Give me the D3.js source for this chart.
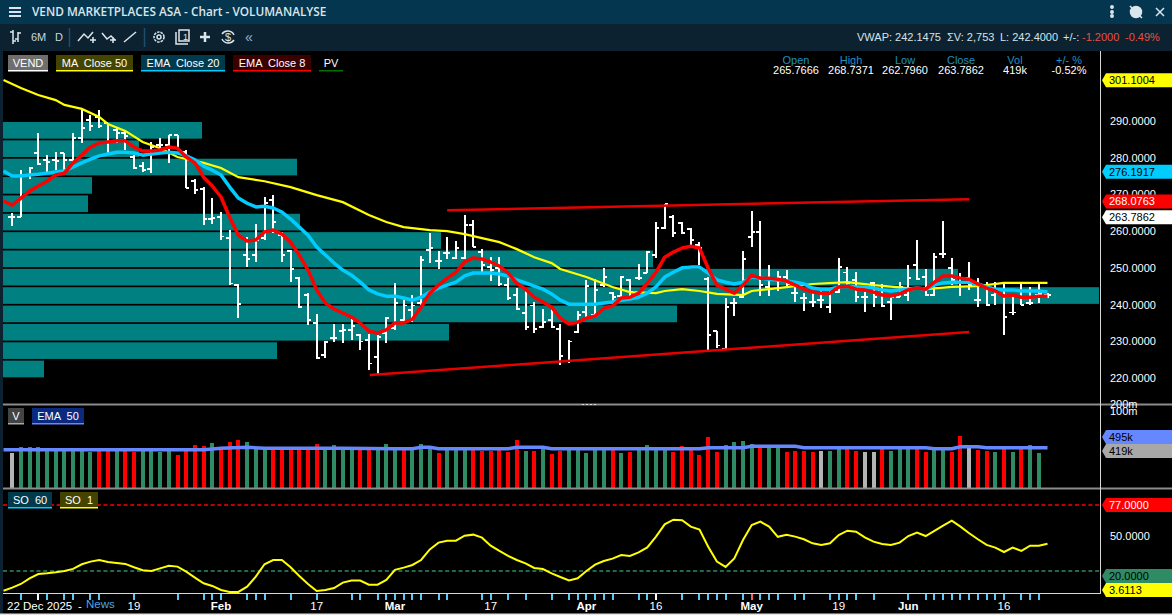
<!DOCTYPE html>
<html>
<head>
<meta charset="utf-8">
<title>VEND MARKETPLACES ASA - Chart</title>
<script src="https://cdn.jsdelivr.net/npm/d3@7"></script>
<style>
html, body { margin: 0; padding: 0; background: #000; overflow: hidden; }
svg { display: block; }
text { font-family: "Liberation Sans", Arial, sans-serif; font-size: 11px; fill: #fff; }
.axis path, .axis line { display: none; }
.axis text { font-size: 11px; fill: #fff; }
</style>
</head>
<body>
<div id="chart"></div>
<script>
// Price bars, one per trading day
const highs = [264.9,276.6,277.5,286.7,280.7,281.6,281.3,286.7,293.0,291.6,
    293.0,289.5,288.1,287.3,280.7,278.8,284.3,285.4,286.2,286.2,
    282.1,274.2,272.0,269.0,265.2,260.3,245.6,258.4,261.9,269.3,
    269.8,259.8,254.9,247.5,243.1,237.4,230.0,234.7,234.7,236.0,
    232.0,232.0,231.7,236.6,245.8,241.2,242.6,253.2,259.5,254.6,
    258.4,257.3,264.4,263.0,255.1,252.9,252.9,247.2,244.5,244.2,
    240.7,238.8,238.8,234.7,230.3,238.2,246.7,247.0,250.0,243.4,
    247.8,247.0,251.0,254.6,262.5,267.4,264.4,262.5,260.8,257.0,
    247.5,232.8,241.8,241.8,254.6,265.5,262.7,250.8,249.1,249.4,
    246.4,243.1,243.4,244.0,244.0,252.7,250.2,248.8,243.4,246.1,
    245.6,242.0,246.1,250.8,257.6,249.7,254.0,262.7,252.7,248.6,
    251.6,247.2,246.1,246.1,245.6,242.0,245.6,244.8,245.9,243.1];
const lows = [261.4,263.8,274.2,278.0,276.1,276.6,276.4,278.8,284.0,287.3,
    288.1,281.3,284.0,282.1,276.9,276.1,275.8,281.3,278.6,282.1,
    271.7,270.1,261.7,262.0,257.6,245.3,236.3,250.2,251.6,257.6,
    259.5,251.6,246.1,239.0,234.4,225.1,225.4,229.8,229.5,230.3,
    227.6,222.1,221.0,229.5,233.1,235.2,235.2,239.8,251.3,249.7,
    252.4,252.4,252.4,255.7,248.8,246.4,245.0,241.2,238.5,233.1,
    232.2,233.6,233.6,223.5,224.0,232.2,236.6,236.6,244.8,239.3,
    242.0,242.0,246.7,248.6,252.7,260.6,258.4,259.2,256.2,250.8,
    227.0,228.1,227.9,236.9,241.8,255.7,242.3,242.3,243.7,244.8,
    240.7,238.2,239.3,239.0,237.7,243.1,245.3,240.7,238.0,239.3,
    239.3,235.8,242.0,240.9,246.7,242.3,242.3,252.7,245.3,242.3,
    244.0,239.3,239.6,239.9,231.7,237.1,239.9,239.9,240.4,241.8];
const opens = [263.8,263.8,275.3,281.3,279.4,279.4,281.3,279.4,285.4,290.3,
    291.1,289.5,287.5,286.7,280.2,277.7,276.9,283.5,283.5,286.2,
    281.6,273.6,271.5,263.3,263.8,258.1,245.3,253.5,253.5,258.1,
    268.5,259.0,254.6,247.2,242.6,235.0,226.2,230.9,232.8,233.1,
    231.7,230.3,225.7,232.2,233.6,235.8,238.5,240.4,254.8,251.8,
    254.0,252.7,252.7,261.7,254.3,250.2,249.9,245.3,242.6,237.7,
    239.8,233.9,235.8,233.3,224.6,232.5,238.0,237.1,245.3,243.1,
    242.3,246.7,247.2,248.6,253.5,260.8,263.8,262.2,260.6,256.2,
    247.0,232.8,227.9,240.4,242.0,258.4,259.8,244.8,246.7,247.5,
    243.1,241.8,240.7,241.2,239.3,243.4,248.8,246.7,242.0,245.9,
    244.0,240.7,242.0,242.6,250.8,247.5,242.6,253.8,249.9,247.2,
    247.2,241.2,245.3,242.6,242.6,237.9,244.0,240.4,242.6,242.6];
const closes = [263.8,275.0,277.2,278.3,278.8,279.1,279.4,285.4,288.1,288.6,
    288.6,284.6,286.7,285.9,277.2,276.6,282.9,283.5,286.2,282.1,
    271.7,271.2,263.3,263.6,258.6,245.8,240.1,252.4,257.6,267.6,
    262.5,253.5,249.7,239.3,235.8,225.4,229.8,230.9,233.1,234.1,
    230.0,224.0,231.1,236.3,240.4,239.8,239.8,252.1,255.4,251.8,
    254.0,255.4,261.7,255.7,250.8,249.4,245.6,241.8,238.8,233.9,
    233.3,235.2,233.9,226.0,230.0,237.1,245.0,244.0,247.5,242.0,
    247.5,243.4,247.2,254.3,260.8,267.4,259.5,259.5,257.6,255.4,
    231.7,228.9,239.3,240.4,252.4,259.8,245.3,246.7,247.5,245.6,
    243.1,241.8,240.7,241.2,243.4,250.2,245.9,242.0,242.0,242.0,
    239.6,242.0,244.8,247.2,246.9,242.6,252.9,253.8,246.7,245.9,
    245.3,241.2,239.9,243.1,236.6,237.9,239.9,240.4,242.9,242.6];

// Moving averages: these start one day before the first bar
const ema8 = [268.2,267.1,269.0,270.9,272.3,273.6,275.3,275.8,278.6,280.7,282.9,
    284.0,284.3,284.6,284.6,282.9,281.8,281.8,282.1,282.9,282.6,
    280.2,278.6,274.7,272.3,269.3,263.8,258.9,257.3,257.6,259.8,
    260.3,259.2,257.0,253.5,249.4,244.0,240.4,238.8,237.7,236.6,
    235.0,232.8,232.2,233.1,235.0,235.0,236.0,239.3,243.1,245.3,
    247.2,248.8,251.6,252.7,252.4,251.6,250.5,248.6,245.8,244.2,
    242.0,240.7,239.3,236.3,234.7,235.2,236.3,236.9,239.0,239.6,
    241.8,242.0,243.1,245.8,248.8,252.9,254.3,255.4,255.9,255.4,
    249.9,245.3,244.2,243.1,245.3,248.0,247.2,247.2,246.9,246.4,
    245.3,244.2,243.4,243.1,243.1,244.8,245.0,244.2,244.0,243.4,
    242.6,242.3,242.9,244.0,244.5,244.2,246.1,247.8,247.8,247.2,
    246.9,245.6,244.5,243.7,242.3,242.6,242.0,242.0,242.3,242.3];
const ema20 = [276.4,275.0,275.0,275.3,275.5,275.8,276.1,276.4,277.5,278.6,279.6,
    280.5,281.0,281.5,281.5,281.3,280.7,281.0,281.3,281.5,281.3,
    280.5,279.4,277.7,276.6,275.3,272.0,269.0,267.6,266.6,266.8,
    266.3,265.2,263.3,261.1,258.9,255.7,253.5,251.3,249.4,248.0,
    246.1,244.0,242.9,242.3,242.3,241.8,241.2,242.0,243.4,244.5,
    245.3,246.1,247.8,248.6,248.6,248.6,248.3,247.8,246.7,245.9,
    245.0,244.2,242.9,241.2,240.1,240.1,240.1,240.1,240.4,240.7,
    241.2,241.5,242.0,243.1,244.8,247.5,248.8,250.0,250.2,250.2,
    248.6,246.7,246.1,245.6,246.1,247.5,247.2,246.9,246.7,246.4,
    246.1,245.6,244.5,244.2,244.2,244.8,245.0,244.8,244.8,244.5,
    244.0,243.7,244.0,244.2,244.5,244.2,245.3,245.9,246.1,246.1,
    246.1,245.6,244.8,244.2,244.0,244.0,243.7,243.7,243.7,243.4];
const ma50Days = [-1,1,3,5,6,8,10,11,13,15,17,19,22,24,26,29,32,35,38,41,43,45,48,50,52,56,58,60,62,63,66,69,71,74,75,77,79,81,84,85,88,90,92,96,99,103,105,108,111,114,119];
const ma50 = [301.2,299.0,297.1,295.7,294.4,293.3,291.1,289.2,287.3,284.3,282.6,280.2,278.6,277.2,274.7,273.6,272.0,269.8,267.9,264.4,262.5,261.1,260.3,260.0,259.2,257.0,255.1,252.9,251.3,249.7,247.5,244.8,243.4,243.1,243.7,244.2,243.7,242.9,242.6,243.7,244.5,245.0,245.6,246.1,245.3,244.5,244.2,244.8,245.0,245.9,245.9];

// Volume by price, in 5 kroner bins from the top of the range down
const pvBinTops = [290,285,280,275,270,265,260,255,250,245,240,235,230,225];
const pvVolume = [199,136,294,89,85,297,438,650,955,1096,674,446,274,41];

// Trend channel, [day, price]
const upperTrend = [[50,265.7],[110,268.7]];
const lowerTrend = [[41.1,220.8],[110,232.5]];

// Volume in thousands
const volumes = [432,508,508,508,484,472,472,472,472,440,
    472,472,472,472,440,472,472,440,472,412,
    472,532,520,556,472,568,592,568,484,484,
    484,484,484,484,484,544,492,532,484,484,
    484,484,484,544,472,472,472,544,488,436,
    472,472,472,472,460,460,472,448,592,460,
    460,480,424,460,472,472,436,472,472,472,
    436,448,472,532,472,472,448,520,472,412,
    628,448,532,568,580,544,496,496,496,448,
    460,460,448,460,460,480,480,460,448,448,
    480,460,480,480,480,448,472,472,448,640,
    500,472,460,448,480,448,480,532,436,8];
const redDays = [10,11,13,14,19,20,21,22,24,25,26,30,31,32,33,34,35,40,41,45,49,53,54,55,56,57,58,60,62,63,69,71,76,77,78,79,80,81,86,89,90,91,92,96,97,100,104,105,108,109,111,112,114,116,119];
const flatDays = [0,93,98,99,110];
const volumeEmaDays = [-1,22,24,27,29,38,44,46,47,48,49,57,58,61,62,79,80,84,85,90,91,105,106,108,109,111,112,119];
const volumeEma = [472,472,488,500,490,490,484,484,500,500,484,484,500,500,484,484,496,496,512,512,496,496,484,484,508,508,496,496];

// Stochastic oscillator, starts one day before the first bar
const so = [3.0,5.6,8.8,13.7,17.4,18.0,18.9,20.0,21.8,25.8,28.1,
    29.5,27.8,26.9,26.1,23.2,20.6,20.0,22.3,24.6,23.8,
    19.4,14.3,9.4,7.1,3.6,1.9,1.9,6.5,15.1,25.8,
    29.5,29.5,23.2,15.7,8.8,2.8,3.6,5.3,10.0,11.7,
    11.7,8.2,8.2,12.3,21.0,22.9,25.2,29.5,38.7,44.5,
    46.2,46.2,50.5,51.4,48.8,41.9,37.3,33.0,29.5,26.6,
    22.6,21.7,18.0,14.8,11.9,13.7,20.0,25.5,28.6,30.7,
    33.8,33.0,36.1,40.4,49.7,60.3,64.3,63.8,58.3,55.7,
    41.0,28.1,23.5,30.9,46.8,59.7,62.6,58.3,49.5,51.3,
    49.7,47.4,43.9,42.5,43.9,51.1,54.8,54.0,49.1,45.4,
    43.3,42.5,44.5,50.2,53.1,50.2,54.6,59.2,63.5,58.3,
    52.6,47.4,42.5,40.2,36.4,40.2,37.3,41.9,41.9,43.6];

// Date axis
const eventDays = [1,3,4,6,7,9,10,14,19,22,23,24,27,28,29,32,35,39,40,42,43,44,45,46,47,49,50,54,55,57,59,62,64,65,66,67,68,69,72,73,74,77,79,80,81,82,84,85,86,87,88,90,91,94,95,96,97,99,103,105,106,107,108,109,110,111,112,113,114,116,117,118];
const labelDays = [14,24,35,44,55,66,74,85,95,103,114];
const labelTexts = ["19","Feb","17","Mar","17","Apr","16","May","19","Jun","16"];
const boldLabels = ["Feb","Mar","Apr","May","Jun"];

// Axis ticks and tags
const priceTicks = [290,280,270,260,250,240,230,220];
const priceTags = [
    {text: "301.1004", value: 301.1, fill: "#ffff00", color: "#000"},
    {text: "276.1917", value: 276.19, fill: "#00ccff", color: "#000"},
    {text: "268.0763", value: 268.08, fill: "#ff0000", color: "#fff"},
    {text: "263.7862", value: 263.79, fill: "#fff", color: "#000"}
];
const statNames = ["Open","High","Low","Close","Vol","+/- %"];
const statValues = ["265.7666","268.7371","262.7960","263.7862","419k","-0.52%"];

const width = 1172;
const height = 615;
const axisX = 1100;

const svg = d3.select("#chart").append("svg")
    .attr("width", width)
    .attr("height", height);

svg.append("rect").attr("width", width).attr("height", height).attr("fill", "#000");

// Scales
const x = d3.scaleLinear().domain([0, 119]).range([12.2, 1047.5]);
const y = d3.scaleLinear().domain([290, 220]).range([121, 378]);
const yPv = d3.scaleLinear().domain([0, 1096]).range([3, 1099]);
const yVol = d3.scaleLinear().domain([0, 640]).range([489, 435.7]);
const ySo = d3.scaleLinear().domain([77, 20]).range([505, 571]);

// Volume profile
svg.append("g").selectAll("rect")
    .data(pvBinTops)
    .enter()
    .append("rect")
    .attr("x", yPv(0))
    .attr("y", d => y(d) + 1)
    .attr("width", (d, i) => yPv(pvVolume[i]) - yPv(0))
    .attr("height", d => y(d - 5) - y(d) - 1.7)
    .attr("fill", "#008080");

// OHLC bars
const bars = svg.append("g").attr("stroke", "#fff").attr("shape-rendering", "crispEdges");
highs.forEach((h, i) => {
    const cx = Math.round(x(i));
    bars.append("line").attr("x1", cx).attr("x2", cx).attr("y1", y(h)).attr("y2", y(lows[i])).attr("stroke-width", 2);
    bars.append("line").attr("x1", cx - 4).attr("x2", cx).attr("y1", y(opens[i])).attr("y2", y(opens[i])).attr("stroke-width", 1.5);
    bars.append("line").attr("x1", cx).attr("x2", cx + 3).attr("y1", y(closes[i])).attr("y2", y(closes[i])).attr("stroke-width", 1.5);
});

// Trend channel
const trendLine = d3.line().x(d => x(d[0])).y(d => y(d[1]));
[upperTrend, lowerTrend].forEach(t => {
    svg.append("path").attr("d", trendLine(t)).attr("fill", "none").attr("stroke", "#e60000").attr("stroke-width", 2.5);
});

// Moving averages
const dayLine = d3.line().x(d => x(d[0])).y(d => y(d[1]));
const fromPrev = arr => arr.map((v, i) => [i - 1, v]);
svg.append("path").attr("d", dayLine(ma50Days.map((d, i) => [d, ma50[i]])))
    .attr("fill", "none").attr("stroke", "#ffff00").attr("stroke-width", 2.2);
svg.append("path").attr("d", dayLine(fromPrev(ema20)))
    .attr("fill", "none").attr("stroke", "#00ccff").attr("stroke-width", 3.5).attr("stroke-linejoin", "round");
svg.append("path").attr("d", dayLine(fromPrev(ema8)))
    .attr("fill", "none").attr("stroke", "#ff0000").attr("stroke-width", 3.5).attr("stroke-linejoin", "round");

// Volume bars
svg.append("g").attr("shape-rendering", "crispEdges").selectAll("rect")
    .data(volumes)
    .enter()
    .append("rect")
    .attr("x", (d, i) => Math.round(x(i)) - 2)
    .attr("y", d => yVol(d))
    .attr("width", 4)
    .attr("height", d => yVol(0) - yVol(d))
    .attr("fill", (d, i) => flatDays.includes(i) ? "#b4b4b4" : redDays.includes(i) ? "#ff0000" : "#2e8b63");

svg.append("path")
    .attr("d", d3.line().x(d => x(d[0])).y(d => yVol(d[1]))(volumeEmaDays.map((d, i) => [d, volumeEma[i]])))
    .attr("fill", "none").attr("stroke", "#6688ff").attr("stroke-width", 3.5);

// Oscillator levels and line
svg.append("line").attr("x1", 3).attr("x2", axisX).attr("y1", ySo(77)).attr("y2", ySo(77))
    .attr("stroke", "#ff0000").attr("stroke-width", 1.5).attr("stroke-dasharray", "4,2.7");
svg.append("line").attr("x1", 3).attr("x2", axisX).attr("y1", ySo(20)).attr("y2", ySo(20))
    .attr("stroke", "#2e8b63").attr("stroke-width", 1.5).attr("stroke-dasharray", "4,2.7");
svg.append("path")
    .attr("d", d3.line().x(d => x(d[0])).y(d => ySo(d[1]))(fromPrev(so)))
    .attr("fill", "none").attr("stroke", "#ffff00").attr("stroke-width", 2);

// Panel separators
[404.5, 488.5].forEach(py => {
    svg.append("rect").attr("x", 3).attr("y", py - 1).attr("width", width - 3).attr("height", 2).attr("fill", "#8c8c8c");
});
svg.append("rect").attr("x", 3).attr("y", 593).attr("width", axisX - 3).attr("height", 1).attr("fill", "#d8d8d8");
svg.append("rect").attr("x", axisX).attr("y", 51).attr("width", 1).attr("height", 543).attr("fill", "#d8d8d8");
svg.append("g").selectAll("rect")
    .data([582, 586, 590, 594])
    .enter()
    .append("rect").attr("x", d => d).attr("y", 404).attr("width", 2).attr("height", 1).attr("fill", "#ddd");

// Date axis
svg.append("g").attr("shape-rendering", "crispEdges").selectAll("rect")
    .data(eventDays)
    .enter()
    .append("rect")
    .attr("x", d => Math.round(x(d)) - 1)
    .attr("y", 594)
    .attr("width", 1.5)
    .attr("height", 6)
    .attr("fill", d => d === 85 ? "#ff5a5a" : (d === 74 || d === 3) ? "#fff" : "#5cc8f5");

svg.append("g").selectAll("text")
    .data(labelDays)
    .enter()
    .append("text")
    .attr("x", d => x(d))
    .attr("y", 610)
    .attr("text-anchor", "middle")
    .attr("font-weight", (d, i) => boldLabels.includes(labelTexts[i]) ? 700 : 400)
    .style("font-size", "11.5px")
    .text((d, i) => labelTexts[i]);
svg.append("text").attr("x", 7).attr("y", 610).style("font-size", "11.5px").text("22 Dec 2025");
svg.append("text").attr("x", 78).attr("y", 610).style("font-size", "11.5px").text("-");
svg.append("text").attr("x", 86).attr("y", 608).style("font-size", "11.5px").style("fill", "#4aa6e8").text("News");

// Right axes
svg.append("g").attr("class", "axis")
    .attr("transform", `translate(${axisX},0)`)
    .call(d3.axisRight(y).tickValues(priceTicks).tickSize(0).tickPadding(10).tickFormat(d3.format(".4f")));
svg.append("g").attr("class", "axis")
    .attr("transform", `translate(${axisX},0)`)
    .call(d3.axisRight(ySo).tickValues([50]).tickSize(0).tickPadding(10).tickFormat(d3.format(".4f")));
svg.append("text").attr("x", 1110).attr("y", 408).text("200m");
svg.append("text").attr("x", 1110).attr("y", 415).text("100m");

// Value tags on the axis
function drawTag(cy, label, fill, color) {
    const top = cy - 7, bottom = cy + 7;
    svg.append("path")
        .attr("d", `M1102,${cy}L1106,${top}H1172V${bottom}H1106Z`)
        .attr("fill", fill);
    svg.append("text").attr("x", 1109).attr("y", cy + 4).style("font-size", "11px").style("fill", color).text(label);
}
priceTags.forEach(t => drawTag(y(t.value), t.text, t.fill, t.color));
drawTag(437, "495k", "#6688ff", "#000");
drawTag(451, "419k", "#a8a8a8", "#000");
drawTag(ySo(77), "77.0000", "#ff0000", "#fff");
drawTag(ySo(20) + 5, "20.0000", "#2e8b63", "#000");
drawTag(590, "3.6113", "#ffff00", "#000");

// Series legends
function legendTag(tagX, tagW, tagY, label, bg, line) {
    if (bg) svg.append("rect").attr("x", tagX).attr("y", tagY).attr("width", tagW).attr("height", 15).attr("fill", bg);
    svg.append("rect").attr("x", tagX).attr("y", tagY + 15).attr("width", tagW).attr("height", 1.5).attr("fill", line);
    svg.append("text").attr("x", tagX + tagW / 2).attr("y", tagY + 12).attr("text-anchor", "middle")
        .attr("xml:space", "preserve").style("font-size", "11px").text(label);
}
legendTag(8, 40, 55, "VEND", "#6e6e6e", "#fff");
legendTag(56, 77, 55, "MA  Close 50", "#444400", "#ffff00");
legendTag(141, 84, 55, "EMA  Close 20", "#003a4d", "#00ccff");
legendTag(233, 78, 55, "EMA  Close 8", "#3a0000", "#ff0000");
legendTag(319, 24, 55, "PV", null, "#007000");
legendTag(8, 16, 408, "V", "#444", "#aaa");
legendTag(32, 52, 408, "EMA  50", "#0a2a80", "#6688ff");
legendTag(8, 44, 492, "SO  60", "#003a4d", "#00ccff");
legendTag(60, 38, 492, "SO  1", "#444400", "#ffff00");

// Open, high, low, close readout
const statX = [796, 851, 905, 961, 1015, 1069];
statNames.forEach((n, i) => {
    svg.append("text").attr("x", statX[i]).attr("y", 64).attr("text-anchor", "middle").style("fill", "#1e90c0").text(n);
    svg.append("text").attr("x", statX[i]).attr("y", 74).attr("text-anchor", "middle").text(statValues[i]);
});

// Title bar and toolbar
svg.append("rect").attr("width", width).attr("height", 24).attr("fill", "#04364f");
svg.append("rect").attr("y", 24).attr("width", width).attr("height", 27).attr("fill", "#0c2230");
svg.append("rect").attr("y", 24).attr("width", 3).attr("height", height - 24).attr("fill", "#0c2230");
svg.append("rect").attr("y", 613.5).attr("width", width).attr("height", 1.5).attr("fill", "#e4e4e4");

svg.append("text").attr("x", 32).attr("y", 16)
    .style("font-family", "'Open Sans'").style("font-size", "11.8px").style("font-weight", 600)
    .style("fill", "#dbe6ec")
    .text("VEND MARKETPLACES ASA - Chart - VOLUMANALYSE");

const icon = svg.append("g").attr("fill", "none").attr("stroke", "#dbe6ec").attr("stroke-width", 1.5);
[8, 12, 16].forEach(v => {
    icon.append("line").attr("x1", 9).attr("x2", 21).attr("y1", v).attr("y2", v).attr("stroke-width", 2);
});
icon.append("path").attr("d", "M13,44V30M13,32H10M13,41H16M18,42V32M18,33H21M18,39H15");
icon.append("path").attr("d", "M78,41L84,34L88,38L93,32M90,40H96M93,37V43");
icon.append("path").attr("d", "M102,33L107,39L111,36L115,40M110,40H116M113,37V43");
icon.append("line").attr("x1", 124).attr("y1", 42).attr("x2", 136).attr("y2", 32);
icon.append("circle").attr("cx", 159).attr("cy", 37).attr("r", 5).attr("stroke-dasharray", "2.5,1");
icon.append("circle").attr("cx", 159).attr("cy", 37).attr("r", 2);
icon.append("path").attr("d", "M176,32V44H188M179,30H189V41H179Z");
icon.append("path").attr("d", "M205,32V42M200,37H210").attr("stroke-width", 2.5);
icon.append("path").attr("d", "M222,34A7,7 0 0 1 234,35M234,40A7,7 0 0 1 222,39");
icon.append("line").attr("x1", 69.5).attr("x2", 69.5).attr("y1", 28).attr("y2", 47).attr("stroke", "#1d4f6b");
icon.append("line").attr("x1", 144.5).attr("x2", 144.5).attr("y1", 28).attr("y2", 47).attr("stroke", "#1d4f6b");
[7, 12, 16].forEach(v => {
    icon.append("circle").attr("cx", 1112).attr("cy", v).attr("r", 1.2).attr("fill", "#dbe6ec");
});
icon.append("circle").attr("cx", 1136).attr("cy", 12).attr("r", 5.5).attr("fill", "#dbe6ec");
icon.append("line").attr("x1", 1130).attr("x2", 1142).attr("y1", 6).attr("y2", 18);
icon.append("path").attr("d", "M1156,8L1164,16M1164,8L1156,16");

svg.append("text").attr("x", 31).attr("y", 41).style("fill", "#c8d6de").text("6M");
svg.append("text").attr("x", 55).attr("y", 41).style("fill", "#c8d6de").text("D");
svg.append("text").attr("x", 183).attr("y", 40).style("fill", "#dbe6ec").style("font-size", "9px").text("1");
svg.append("text").attr("x", 225).attr("y", 41).style("fill", "#dbe6ec").text("$");
svg.append("text").attr("x", 245).attr("y", 42).style("fill", "#8fb8d0").style("font-size", "14px").text("«");

[
    [857, "VWAP: 242.1475", "#d6e2e9"],
    [947, "ΣV: 2,753", "#d6e2e9"],
    [1000, "L: 242.4000", "#d6e2e9"],
    [1063, "+/-:", "#d6e2e9"],
    [1082, "-1.2000", "#e8503f"],
    [1125, "-0.49%", "#e8503f"]
].forEach(d => {
    svg.append("text").attr("x", d[0]).attr("y", 41).style("fill", d[2]).style("font-size", "11px").text(d[1]);
});
</script>
</body>
</html>
